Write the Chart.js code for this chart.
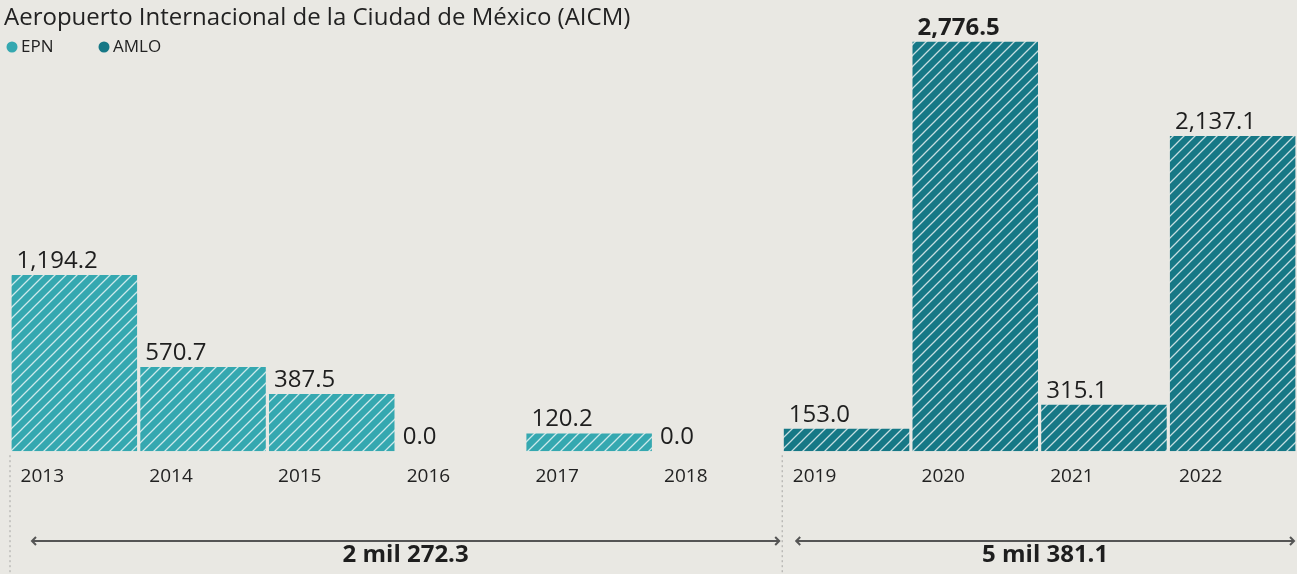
<!DOCTYPE html>
<html>
<head>
<meta charset="utf-8">
<script src="https://cdn.jsdelivr.net/npm/chart.js@4/dist/chart.umd.min.js"></script>
<style>
  html, body { margin: 0; padding: 0; background: #e9e8e3; }
  #wrap { width: 1297px; height: 574px; }
</style>
</head>
<body>
<div id="wrap"><canvas id="aicmChart" width="1297" height="574"></canvas></div>
<script>
// datos (millones de pesos)
const years = ["2013", "2014", "2015", "2016", "2017", "2018", "2019", "2020", "2021", "2022"];
const epnValues = [1194.2, 570.7, 387.5, 0.0, 120.2, 0.0, null, null, null, null];
const amloValues = [null, null, null, null, null, null, 153.0, 2776.5, 315.1, 2137.1];
const periodLabels = ["2 mil 272.3", "5 mil 381.1"];
const periodFirst = [0, 6];
const periodLast = [5, 9];
const chartTitle = "Aeropuerto Internacional de la Ciudad de México (AICM)";

const epnColor = "#35a8b0";
const amloColor = "#167886";

// patrón rayado
function hatch(color) {
    const s = 11;
    const c = document.createElement("canvas");
    c.width = s; c.height = s;
    const g = c.getContext("2d");
    g.fillStyle = color;
    g.fillRect(0, 0, s, s);
    g.strokeStyle = "rgba(255,255,255,0.75)";
    g.lineWidth = 1.3;
    g.beginPath();
    g.moveTo(-1, s + 1); g.lineTo(s + 1, -1);
    g.moveTo(-s / 2 - 1, s / 2 + 1); g.lineTo(s / 2 + 1, -s / 2 - 1);
    g.moveTo(s / 2 - 1, s * 1.5 + 1); g.lineTo(s * 1.5 + 1, s / 2 - 1);
    g.stroke();
    return g.createPattern(c, "repeat");
}

const fmt = v => v.toLocaleString("en-US", { minimumFractionDigits: 1, maximumFractionDigits: 1 });

const extras = {
    id: "extras",
    afterDatasetsDraw(chart) {
        const ctx = chart.ctx;
        const x = chart.scales.x;
        const area = chart.chartArea;
        ctx.save();

        // titulo
        ctx.fillStyle = "#222";
        ctx.font = "24px 'Open Sans'";
        ctx.textAlign = "left";
        ctx.textBaseline = "alphabetic";
        ctx.fillText(chartTitle, 4, 25);

        // leyenda
        ctx.font = "17px 'Open Sans'";
        ctx.textBaseline = "middle";
        [["EPN", epnColor, 12], ["AMLO", amloColor, 104]].forEach(([t, col, lx]) => {
            ctx.fillStyle = col;
            ctx.beginPath(); ctx.arc(lx, 47, 5.5, 0, Math.PI * 2); ctx.fill();
            ctx.fillStyle = "#222";
            ctx.fillText(t, lx + 9, 47);
        });

        // etiquetas de valor
        ctx.textBaseline = "alphabetic";
        chart.data.datasets.forEach((ds, di) => {
            chart.getDatasetMeta(di).data.forEach((bar, i) => {
                const v = ds.data[i];
                if (v === null) return;
                ctx.font = (years[i] === "2020" ? "bold " : "") + "24px 'Open Sans'";
                ctx.fillStyle = "#1e1e1e";
                ctx.fillText(fmt(v), bar.x - bar.width / 2 + 5, bar.y - 7);
            });
        });

        // lineas punteadas
        const half = (x.getPixelForValue(1) - x.getPixelForValue(0)) / 2;
        ctx.strokeStyle = "rgba(120,120,120,0.6)";
        ctx.lineWidth = 1;
        ctx.setLineDash([2, 3]);
        [0, 6].forEach(i => {
            const px = x.getPixelForValue(i) - half;
            ctx.beginPath(); ctx.moveTo(px, area.bottom + 4); ctx.lineTo(px, 574); ctx.stroke();
        });
        ctx.setLineDash([]);

        // flechas y totales
        periodLabels.forEach((lab, k) => {
            const x1 = x.getPixelForValue(periodFirst[k]) - half + (k === 0 ? 22 : 14);
            const x2 = x.getPixelForValue(periodLast[k]) + half - 3;
            const y = 541;
            ctx.strokeStyle = "#555";
            ctx.lineWidth = 2;
            ctx.beginPath(); ctx.moveTo(x1, y); ctx.lineTo(x2, y); ctx.stroke();
            ctx.beginPath();
            ctx.moveTo(x1 + 4, y - 4); ctx.lineTo(x1, y); ctx.lineTo(x1 + 4, y + 4);
            ctx.moveTo(x2 - 4, y - 4); ctx.lineTo(x2, y); ctx.lineTo(x2 - 4, y + 4);
            ctx.stroke();
            ctx.fillStyle = "#1e1e1e";
            ctx.font = "bold 24px 'Liberation Sans Narrow', 'Open Sans'";
            ctx.textAlign = "center";
            ctx.fillText(lab, (x1 + x2) / 2, 562);
            ctx.textAlign = "left";
        });
        ctx.restore();
    }
};

new Chart(document.getElementById("aicmChart"), {
    type: "bar",
    data: {
        labels: years,
        datasets: [
            { label: "EPN", data: epnValues, backgroundColor: hatch(epnColor), grouped: false },
            { label: "AMLO", data: amloValues, backgroundColor: hatch(amloColor), grouped: false }
        ]
    },
    options: {
        responsive: false,
        animation: false,
        layout: { padding: { left: 10, right: 0, top: 0, bottom: 80 } },
        datasets: { bar: { barPercentage: 0.975, categoryPercentage: 1 } },
        plugins: { legend: { display: false }, tooltip: { enabled: false } },
        scales: {
            x: {
                grid: { display: false },
                border: { display: false },
                ticks: {
                    color: "#222",
                    font: { family: "'Open Sans'", size: 19 },
                    padding: 6,
                    labelOffset: -32,
                    maxRotation: 0
                }
            },
            y: { display: false, min: 0, max: 3060 }
        }
    },
    plugins: [extras]
});
</script>
</body>
</html>
